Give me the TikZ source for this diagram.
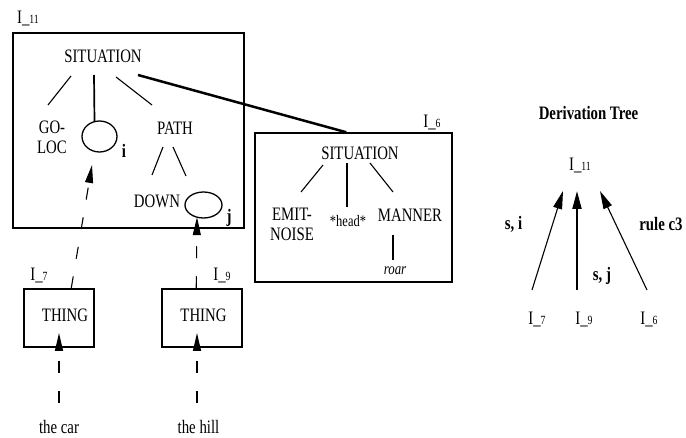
\documentclass[tikz,border=0pt]{standalone}
\usepackage{fontspec}
\setmainfont{Liberation Serif}[FakeStretch=0.78]
\usetikzlibrary{arrows.meta,calc,shapes.geometric}
\newcommand\Ilab[1]{I\_{\fontsize{12.5}{12.5}\selectfont #1}}
\begin{document}
\begin{tikzpicture}[x=1pt,y=-1pt,
  txt/.style={inner sep=0pt, font=\fontsize{19}{20}\selectfont},
  bld/.style={inner sep=0pt, font=\fontsize{19}{20}\selectfont\bfseries},
  frame/.style={draw, line width=1.5pt, inner sep=0pt},
  oval/.style={draw, ellipse, line width=1.3pt, inner sep=0pt},
  tline/.style={line width=1.1pt},
  mline/.style={line width=1.7pt},
  dasharr/.style={line width=1.1pt, dash pattern=on 12pt off 18pt, -{Triangle[length=18pt,width=8pt]}},
  tarr/.style={line width=1.1pt, -{Triangle[length=18pt,width=9pt]}}
]
\useasboundingbox (0,0) rectangle (686,438);

% I_11 structure
\node[txt] (l11) at (28,19) {\Ilab{11}};
\node[frame, minimum width=231pt, minimum height=195pt] (b11) at (128.5,130.5) {};
\node[txt] (s1) at (103,56) {SITUATION};
\node[txt, align=center] (goloc) at (52,137) {GO-\\LOC};
\node[oval, minimum width=35pt, minimum height=31pt] (ei) at (99.5,136.5) {};
\node[bld] (il) at (124,151) {i};
\node[txt] (path) at (175,128) {PATH};
\node[txt] (down) at (157,201) {DOWN};
\node[oval, minimum width=37pt, minimum height=26pt] (ej) at (203.5,205) {};
\node[bld] (jl) at (229,218) {j};

% I_6 structure
\node[frame, minimum width=197pt, minimum height=149pt] (b6) at (353.5,207.5) {};
\node[txt] (l6) at (432,123) {\Ilab{6}};
\node[txt] (s6) at (360,153) {SITUATION};
\node[txt, align=center] (emit) at (292,224) {EMIT-\\NOISE};
\node[txt, font=\fontsize{16}{16}\selectfont] (head) at (348,221) {*head*};
\node[txt] (manner) at (410,215) {MANNER};
\node[txt, font=\fontsize{16.5}{16.5}\selectfont\itshape] (roar) at (395,271) {roar};

% I_7 and I_9
\node[frame, minimum width=70pt, minimum height=58pt] (b7) at (59,318) {};
\node[txt] (t7) at (65,315) {THING};
\node[txt] (l7) at (39,276) {\Ilab{7}};
\node[frame, minimum width=80pt, minimum height=58pt] (b9) at (202,318) {};
\node[txt] (t9) at (203.5,315) {THING};
\node[txt] (l9) at (222,276) {\Ilab{9}};
\node[txt] (car) at (59,427) {the car};
\node[txt] (hill) at (198.5,427) {the hill};

% tree lines I_11
\draw[tline] ($(s1)+(-32,20)$) -- ($(goloc)+(-4,-32)$);
\draw[mline] ($(s1)+(-9,19)$) -- ($(ei)+(-5,-15)$);
\draw[tline] ($(s1)+(13,21)$) -- ($(path)+(-23,-23)$);
\draw[tline] ($(path)+(-12,19)$) -- ($(down)+(-5,-26)$);
\draw[tline] ($(path)+(-2,19)$) -- ($(ej)+(-17.5,-29)$);
\draw[line width=2.5pt] ($(s1)+(35,19)$) -- ($(b6.north west)+(92,0)$);

% tree lines I_6
\draw[tline] ($(s6)+(-37,12)$) -- ($(emit)+(9,-32)$);
\draw[mline] ($(s6)+(-13,10)$) -- ($(head)+(-1,-14)$);
\draw[tline] ($(s6)+(10,10)$) -- ($(manner)+(-17,-23)$);
\draw[mline] ($(manner)+(-17,20)$) -- ($(roar)+(-2,-11)$);

% dashed arrows
\draw[dasharr] ($(b7.north west)+(48,0)$) -- ($(ei)+(-7.5,28.5)$);
\draw[dasharr] ($(b9.north west)+(35,0)$) -- ($(ej)+(-6.5,12.2)$);
\draw[dasharr] ($(car)+(0,-24)$) -- ($(b7)+(0,15)$);
\draw[dasharr] ($(hill)+(-1.5,-24)$) -- ($(b9)+(-5,15)$);

% derivation tree
\node[bld] (dt) at (588.5,113) {Derivation Tree};
\node[txt] (r11) at (580,166) {\Ilab{11}};
\node[txt] (r7) at (537,320) {\Ilab{7}};
\node[txt] (r9) at (584,320) {\Ilab{9}};
\node[txt] (r6) at (649,320) {\Ilab{6}};
\draw[tarr] ($(r7)+(-5,-30)$) -- ($(r11)+(-17,25)$);
\draw[tarr, line width=2pt] ($(r9)+(-7,-30)$) -- ($(r11)+(-3,25)$);
\draw[tarr] ($(r6)+(-2,-30)$) -- ($(r11)+(20,25)$);
\node[bld] (si) at (513.5,224) {s, i};
\node[bld] (rc) at (661,224) {rule c3};
\node[bld] (sj) at (602,276) {s, j};
\end{tikzpicture}
\end{document}
